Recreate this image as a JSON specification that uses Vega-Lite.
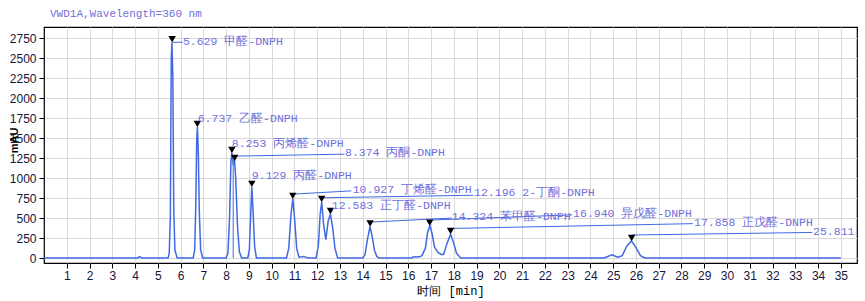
{
  "$schema": "https://vega.github.io/schema/vega-lite/v6.json",
  "width": 813,
  "height": 236,
  "autosize": {"type": "none"},
  "padding": {"left": 44, "top": 27, "right": 8, "bottom": 38},
  "background": "white",
  "config": {
    "view": {"stroke": "black", "strokeWidth": 1.2},
    "axis": {
      "domain": false,
      "gridColor": "#d9d9d9",
      "gridWidth": 1,
      "tickColor": "black",
      "tickSize": 5,
      "labelFont": "Liberation Sans",
      "labelFontSize": 12,
      "labelColor": "#15153a",
      "labelOverlap": false,
      "titleFont": "Liberation Mono",
      "titleFontSize": 12,
      "titleFontWeight": "normal",
      "titleColor": "black"
    }
  },
  "title": {
    "text": "VWD1A,Wavelength=360 nm",
    "anchor": "start",
    "frame": "group",
    "dx": 6,
    "offset": 8,
    "font": "Liberation Mono",
    "fontSize": 11,
    "fontWeight": "normal",
    "color": "#6f6fdc"
  },
  "datasets": {
    "trace": [
      {"t": 0, "v": 0}, {"t": 4.1, "v": 0}, {"t": 4.2, "v": 18}, {"t": 4.3, "v": 0},
      {"t": 5.45, "v": 0}, {"t": 5.5, "v": 60}, {"t": 5.55, "v": 500}, {"t": 5.59, "v": 2500}, {"t": 5.62, "v": 2700}, {"t": 5.66, "v": 2250}, {"t": 5.7, "v": 600}, {"t": 5.75, "v": 100}, {"t": 5.85, "v": 0},
      {"t": 6.55, "v": 0}, {"t": 6.62, "v": 100}, {"t": 6.67, "v": 700}, {"t": 6.71, "v": 1500}, {"t": 6.74, "v": 1640}, {"t": 6.78, "v": 1300}, {"t": 6.82, "v": 600}, {"t": 6.88, "v": 100}, {"t": 6.97, "v": 0},
      {"t": 8.0, "v": 0}, {"t": 8.08, "v": 60}, {"t": 8.15, "v": 500}, {"t": 8.21, "v": 1200}, {"t": 8.25, "v": 1315}, {"t": 8.31, "v": 1180}, {"t": 8.37, "v": 1215}, {"t": 8.42, "v": 1000}, {"t": 8.5, "v": 400}, {"t": 8.58, "v": 80}, {"t": 8.68, "v": 0},
      {"t": 8.95, "v": 0}, {"t": 9.02, "v": 100}, {"t": 9.08, "v": 550}, {"t": 9.13, "v": 890}, {"t": 9.18, "v": 600}, {"t": 9.25, "v": 150}, {"t": 9.33, "v": 0},
      {"t": 10.65, "v": 0}, {"t": 10.75, "v": 120}, {"t": 10.85, "v": 550}, {"t": 10.93, "v": 740}, {"t": 11.0, "v": 520}, {"t": 11.1, "v": 120}, {"t": 11.2, "v": 10}, {"t": 11.4, "v": 20}, {"t": 11.6, "v": 0},
      {"t": 11.95, "v": 0}, {"t": 12.05, "v": 150}, {"t": 12.13, "v": 550}, {"t": 12.2, "v": 700}, {"t": 12.28, "v": 420}, {"t": 12.38, "v": 230}, {"t": 12.48, "v": 460}, {"t": 12.58, "v": 550}, {"t": 12.68, "v": 380}, {"t": 12.78, "v": 120}, {"t": 12.9, "v": 0},
      {"t": 14.0, "v": 0}, {"t": 14.1, "v": 40}, {"t": 14.2, "v": 220}, {"t": 14.32, "v": 395}, {"t": 14.42, "v": 260}, {"t": 14.52, "v": 90}, {"t": 14.62, "v": 20}, {"t": 14.72, "v": 0},
      {"t": 16.15, "v": 0}, {"t": 16.2, "v": 12}, {"t": 16.5, "v": 15}, {"t": 16.6, "v": 30}, {"t": 16.75, "v": 120}, {"t": 16.85, "v": 320}, {"t": 16.95, "v": 405}, {"t": 17.05, "v": 300}, {"t": 17.15, "v": 140}, {"t": 17.3, "v": 70}, {"t": 17.45, "v": 45}, {"t": 17.55, "v": 45}, {"t": 17.7, "v": 180}, {"t": 17.86, "v": 300}, {"t": 18.0, "v": 180}, {"t": 18.12, "v": 60}, {"t": 18.3, "v": 0},
      {"t": 24.6, "v": 0}, {"t": 24.95, "v": 40}, {"t": 25.2, "v": 10}, {"t": 25.4, "v": 30}, {"t": 25.6, "v": 150}, {"t": 25.81, "v": 212}, {"t": 26.0, "v": 130}, {"t": 26.2, "v": 30}, {"t": 26.4, "v": 0},
      {"t": 35.0, "v": 0}
    ],
    "peaks": [
      {"rt": 5.629, "h": 2700, "label": "5.629 甲醛-DNPH", "lx": 6.1, "ly": 2704},
      {"rt": 6.737, "h": 1640, "label": "6.737 乙醛-DNPH", "lx": 6.75, "ly": 1745},
      {"rt": 8.253, "h": 1315, "label": "8.253 丙烯醛-DNPH", "lx": 8.25, "ly": 1425},
      {"rt": 8.374, "h": 1215, "label": "8.374 丙酮-DNPH", "lx": 13.22, "ly": 1312},
      {"rt": 9.129, "h": 890, "label": "9.129 丙醛-DNPH", "lx": 9.13, "ly": 1025},
      {"rt": 10.927, "h": 740, "label": "10.927 丁烯醛-DNPH", "lx": 13.56, "ly": 850},
      {"rt": 12.196, "h": 700, "label": "12.196 2-丁酮-DNPH", "lx": 18.89, "ly": 812},
      {"rt": 12.583, "h": 550, "label": "12.583 正丁醛-DNPH", "lx": 12.64, "ly": 650},
      {"rt": 14.324, "h": 395, "label": "14.324 苯甲醛-DNPH", "lx": 17.91, "ly": 512},
      {"rt": 16.94, "h": 405, "label": "16.940 异戊醛-DNPH", "lx": 23.24, "ly": 550},
      {"rt": 17.858, "h": 300, "label": "17.858 正戊醛-DNPH", "lx": 28.55, "ly": 441},
      {"rt": 25.811, "h": 212, "label": "25.811", "lx": 33.78, "ly": 329}
    ],
    "leaders": [
      {"x1": 5.66, "y1": 2700, "x2": 6.1, "y2": 2700},
      {"x1": 8.4, "y1": 1275, "x2": 13.2, "y2": 1300},
      {"x1": 10.95, "y1": 800, "x2": 13.5, "y2": 840},
      {"x1": 12.22, "y1": 754, "x2": 18.85, "y2": 785},
      {"x1": 14.35, "y1": 450, "x2": 17.9, "y2": 500},
      {"x1": 16.97, "y1": 475, "x2": 23.2, "y2": 540},
      {"x1": 17.89, "y1": 370, "x2": 28.5, "y2": 430},
      {"x1": 25.84, "y1": 288, "x2": 33.75, "y2": 320}
    ],
    "drops": [
      {"x": 8.31, "y1": 0, "y2": 1180}
    ]
  },
  "layer": [
    {
      "data": {"name": "trace"},
      "mark": {"type": "line", "color": "#4169e1", "strokeWidth": 1.5, "clip": true},
      "encoding": {
        "x": {
          "field": "t", "type": "quantitative",
          "scale": {"domain": [0, 35.71], "nice": false, "zero": false},
          "axis": {"values": [1,2,3,4,5,6,7,8,9,10,11,12,13,14,15,16,17,18,19,20,21,22,23,24,25,26,27,28,29,30,31,32,33,34,35], "tickCount": 100, "format": "d", "labelOverlap": false, "title": "时间 [min]", "labelPadding": 2, "titlePadding": 4, "labelFlush": false}
        },
        "y": {
          "field": "v", "type": "quantitative",
          "scale": {"domain": [-62.5, 2891], "nice": false, "zero": false},
          "axis": {"values": [0,250,500,750,1000,1250,1500,1750,2000,2250,2500,2750], "tickCount": 100, "format": "d", "labelOverlap": false, "title": "mAU", "titleX": -30, "titleY": 113, "titleAngle": -90, "titleAlign": "center", "titleBaseline": "middle", "titleFontSize": 11, "titleFont": "Liberation Sans", "titleFontWeight": "bold", "labelPadding": 3}
        }
      }
    },
    {
      "data": {"name": "drops"},
      "mark": {"type": "rule", "color": "#4169e1", "strokeWidth": 1},
      "encoding": {
        "x": {"field": "x", "type": "quantitative"},
        "y": {"field": "y1", "type": "quantitative"},
        "y2": {"field": "y2"}
      }
    },
    {
      "data": {"name": "leaders"},
      "mark": {"type": "rule", "color": "#4169e1", "strokeWidth": 1},
      "encoding": {
        "x": {"field": "x1", "type": "quantitative"},
        "y": {"field": "y1", "type": "quantitative"},
        "x2": {"field": "x2"},
        "y2": {"field": "y2"}
      }
    },
    {
      "data": {"name": "peaks"},
      "mark": {"type": "point", "shape": "triangle-down", "filled": true, "color": "black", "size": 55, "opacity": 1, "yOffset": -3},
      "encoding": {
        "x": {"field": "rt", "type": "quantitative"},
        "y": {"field": "h", "type": "quantitative"}
      }
    },
    {
      "data": {"name": "peaks"},
      "mark": {"type": "text", "align": "left", "baseline": "middle", "font": "Liberation Mono", "fontSize": 11.5, "color": "#6f6fdc"},
      "encoding": {
        "x": {"field": "lx", "type": "quantitative"},
        "y": {"field": "ly", "type": "quantitative"},
        "text": {"field": "label"}
      }
    }
  ]
}
